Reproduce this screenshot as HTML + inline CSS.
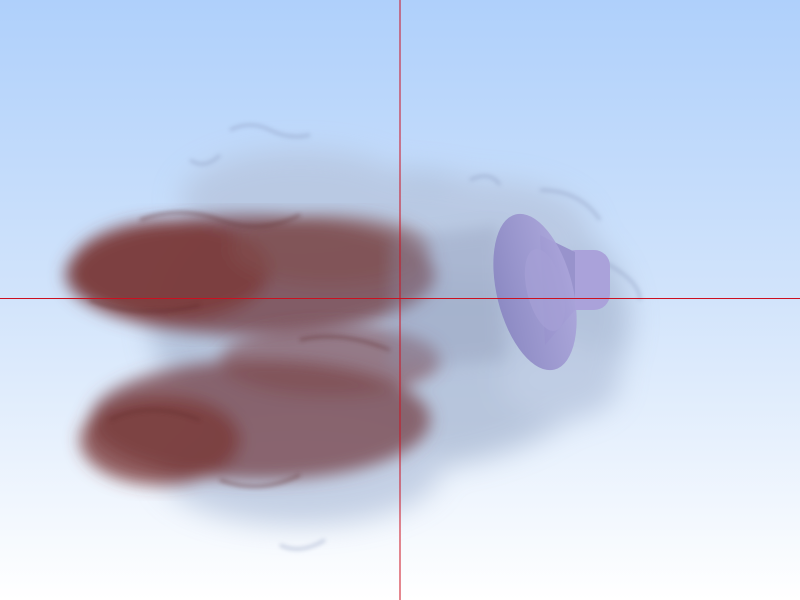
<!DOCTYPE html>
<html><head><meta charset="utf-8"><style>
html,body{margin:0;padding:0;width:800px;height:600px;overflow:hidden}
svg{display:block}
</style></head><body>
<svg width="800" height="600" viewBox="0 0 800 600">
<defs>
<linearGradient id="bg" x1="0" y1="0" x2="0" y2="1">
<stop offset="0" stop-color="#afd0fb"/><stop offset="0.5" stop-color="#d2e4fb"/><stop offset="1" stop-color="#ffffff"/>
</linearGradient>
<filter id="b8"><feGaussianBlur stdDeviation="8"/></filter>
<filter id="b14"><feGaussianBlur stdDeviation="14"/></filter>
<filter id="b4"><feGaussianBlur stdDeviation="4"/></filter>
<filter id="b2"><feGaussianBlur stdDeviation="2"/></filter>
<linearGradient id="funnel" x1="0" y1="0" x2="1" y2="0">
<stop offset="0" stop-color="#8a86c2"/><stop offset="1" stop-color="#aaa4da"/>
</linearGradient>
</defs>
<rect width="800" height="600" fill="url(#bg)"/>
<g filter="url(#b14)" opacity="0.75">
<ellipse cx="390" cy="320" rx="240" ry="150" fill="#a9b8d2"/>
<ellipse cx="300" cy="200" rx="120" ry="50" fill="#b5c3dc"/>
<ellipse cx="480" cy="230" rx="110" ry="50" fill="#b5c3dc"/>
<ellipse cx="300" cy="470" rx="140" ry="55" fill="#b5c3dc"/>
<ellipse cx="560" cy="380" rx="60" ry="40" fill="#b5c3dc"/>
</g>
<g filter="url(#b2)" opacity="0.5" fill="none" stroke="#8e9cc0" stroke-width="3">
<path d="M230,130 q20,-10 40,0 t40,5"/>
<path d="M190,160 q15,10 30,-5"/>
<path d="M540,190 q40,0 60,30"/>
<path d="M600,260 q40,20 40,40"/>
<path d="M280,545 q20,10 45,-5"/>
<path d="M470,180 q20,-10 30,5"/>
</g>
<g filter="url(#b8)">
<ellipse cx="250" cy="275" rx="185" ry="60" fill="#7a4a52" opacity="0.85"/>
<ellipse cx="170" cy="270" rx="100" ry="50" fill="#7a3a38" opacity="0.8"/>
<ellipse cx="330" cy="250" rx="100" ry="35" fill="#82504f" opacity="0.6"/>
</g>
<g filter="url(#b8)">
<ellipse cx="260" cy="420" rx="170" ry="60" fill="#7a4a52" opacity="0.8"/>
<ellipse cx="160" cy="440" rx="80" ry="45" fill="#7a3a38" opacity="0.8"/>
<ellipse cx="330" cy="360" rx="110" ry="35" fill="#7e4a4e" opacity="0.6"/>
</g>
<g filter="url(#b2)" opacity="0.45" fill="none" stroke="#5e2a2a" stroke-width="3">
<path d="M140,220 q40,-15 80,0 t80,-5"/>
<path d="M90,300 q50,20 110,5"/>
<path d="M110,420 q40,-20 90,0"/>
<path d="M220,480 q40,15 80,-5"/>
<path d="M300,340 q40,-10 90,10"/>
</g>
<g filter="url(#b8)" opacity="0.35">
<polygon points="390,240 500,225 505,360 390,370" fill="#8e96b4"/>
</g>
<g>
<rect x="560" y="250" width="50" height="60" rx="16" fill="#aaa2da"/>
<path d="M540,235 L575,252 L575,310 L545,345 Z" fill="#9893cc"/>
<ellipse cx="535" cy="292" rx="38" ry="80" transform="rotate(-14 535 292)" fill="url(#funnel)" opacity="0.92"/>
<ellipse cx="545" cy="290" rx="18" ry="42" transform="rotate(-14 545 290)" fill="#a59fd6" opacity="0.7"/>
</g>
<line x1="400" y1="0" x2="400" y2="600" stroke="#cc1020" stroke-width="1"/>
<line x1="0" y1="298.5" x2="800" y2="298.5" stroke="#cc1020" stroke-width="1"/>
</svg>
</body></html>
